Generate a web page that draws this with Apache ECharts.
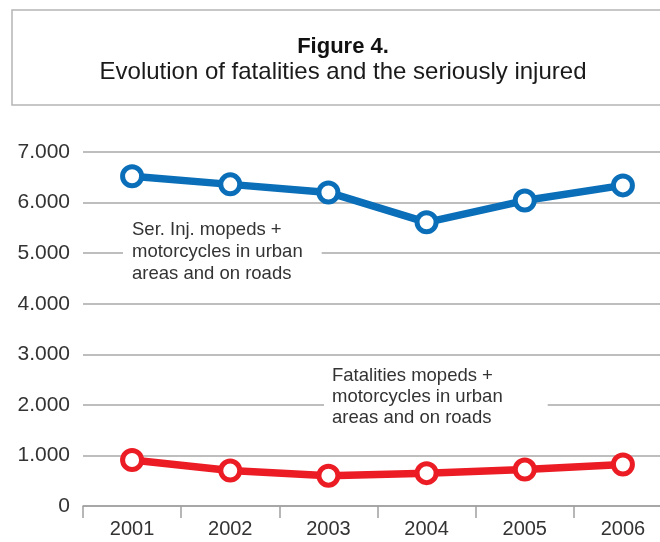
<!DOCTYPE html>
<html>
<head>
<meta charset="utf-8">
<script src="https://cdn.jsdelivr.net/npm/echarts@6/dist/echarts.min.js"></script>
<style>
  html, body { margin: 0; padding: 0; background: #fff; overflow: hidden; }
  #chart { width: 672px; height: 542px; }
</style>
</head>
<body>
<div id="chart"></div>
<script>
// Figure 4 - fatalities and seriously injured
var years = ['2001', '2002', '2003', '2004', '2005', '2006'];
var seriousInjured = [6520, 6360, 6200, 5610, 6040, 6340];
var fatalities = [910, 700, 600, 650, 720, 820];
var yTicks = [0, 1000, 2000, 3000, 4000, 5000, 6000, 7000];

var font = '"Liberation Sans", Arial, Helvetica, sans-serif';

function fmt(v) {
  if (v === 0) return '0';
  var s = String(v);
  return s.slice(0, s.length - 3) + '.' + s.slice(s.length - 3);
}

var option = {
  animation: false,
  backgroundColor: '#fff',
  grid: {
    left: 83,
    right: 0,
    top: 152,
    bottom: 36
  },
  graphic: [
    {
      type: 'rect',
      shape: { x: 12, y: 10, width: 700, height: 95 },
      style: { fill: '#fff', stroke: '#b5b5b5', lineWidth: 1.5 },
      z: 0
    },
    {
      type: 'text',
      x: 343, y: 47,
      style: {
        text: 'Figure 4.', font: 'bold 22px ' + font, fill: '#111',
        align: 'center', verticalAlign: 'middle'
      }
    },
    {
      type: 'text',
      x: 343, y: 72,
      style: {
        text: 'Evolution of fatalities and the seriously injured', font: '24px ' + font, fill: '#1a1a1a',
        align: 'center', verticalAlign: 'middle'
      }
    },
    {
      type: 'text',
      x: 123, y: 219, z: 10,
      style: {
        text: 'Ser. Inj. mopeds +\nmotorcycles in urban\nareas and on roads',
        font: '18.5px ' + font, fill: '#333', lineHeight: 22,
        backgroundColor: '#fff', padding: [0, 19, 0, 9]
      }
    },
    {
      type: 'text',
      x: 324, y: 365, z: 10,
      style: {
        text: 'Fatalities mopeds +\nmotorcycles in urban\nareas and on roads',
        font: '18.5px ' + font, fill: '#333', lineHeight: 21,
        backgroundColor: '#fff', padding: [0, 45, 0, 8]
      }
    }
  ],
  xAxis: {
    type: 'category',
    data: years,
    boundaryGap: true,
    axisLine: { lineStyle: { color: '#a0a0a0', width: 1.5 } },
    axisTick: { show: true, length: 12, lineStyle: { color: '#a0a0a0', width: 1.5 } },
    axisLabel: { color: '#333', fontSize: 20, fontFamily: font, margin: 13 }
  },
  yAxis: {
    type: 'value',
    min: 0,
    max: 7000,
    interval: 1000,
    axisLine: { show: false },
    axisTick: { show: false },
    axisLabel: {
      color: '#333', fontSize: 21, fontFamily: font, margin: 13,
      formatter: function (v) { return yTicks.indexOf(v) >= 0 ? fmt(v) : ''; }
    },
    splitLine: { lineStyle: { color: '#a8a8a8', width: 1.5 } }
  },
  series: [
    {
      name: 'Ser. Inj. mopeds + motorcycles',
      type: 'line',
      data: seriousInjured,
      symbol: 'circle',
      symbolSize: 19,
      lineStyle: { color: '#0a6fb8', width: 7.5 },
      itemStyle: { color: '#fff', borderColor: '#0a6fb8', borderWidth: 5 },
      z: 5
    },
    {
      name: 'Fatalities mopeds + motorcycles',
      type: 'line',
      data: fatalities,
      symbol: 'circle',
      symbolSize: 19,
      lineStyle: { color: '#ec1c24', width: 7.5 },
      itemStyle: { color: '#fff', borderColor: '#ec1c24', borderWidth: 5 },
      z: 5
    }
  ]
};

var chart = echarts.init(document.getElementById('chart'), null, { renderer: 'canvas' });
chart.setOption(option);
</script>
</body>
</html>
